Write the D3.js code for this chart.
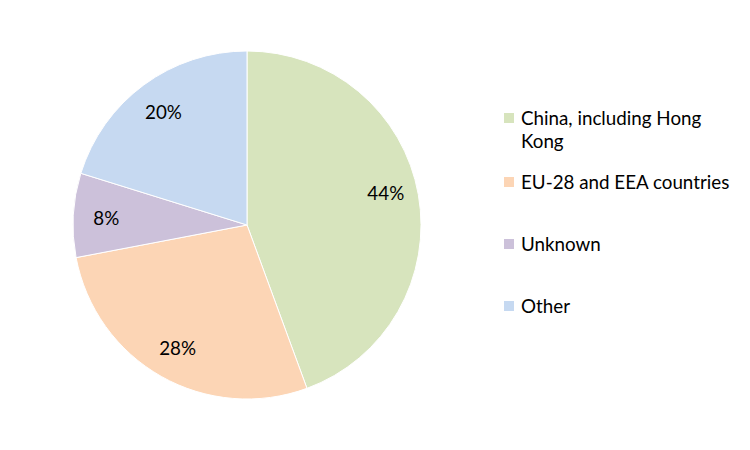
<!DOCTYPE html>
<html><head><meta charset="utf-8">
<script src="https://cdn.jsdelivr.net/npm/d3@7"></script>
<style>body{margin:0;background:#fff}svg{display:block}</style>
</head><body>
<svg id="chart" width="750" height="450"></svg>
<script>
const categories = ["China, including Hong Kong", "EU-28 and EEA countries", "Unknown", "Other"];
const values = [44.4, 27.6, 7.8, 20.2];
const labels = ["44%", "28%", "8%", "20%"];
const colors = ["#D7E4BD", "#FCD5B5", "#CCC1DA", "#C6D9F1"];
const legendLines = [["China, including Hong", "Kong"], ["EU-28 and EEA countries"], ["Unknown"], ["Other"]];

const svg = d3.select("#chart");
const cx = 247, cy = 225, r = 174;
const font = "Lato, 'Open Sans', sans-serif";
const fs = 18.8;
const labelShift = [-8, 0, 0, 0];
const pie = d3.pie().sort(null).value(d => d);
const arcs = pie(values);
const arc = d3.arc().innerRadius(0).outerRadius(r);
const labelArc = d3.arc().innerRadius(r * 0.81).outerRadius(r * 0.81);
const g = svg.append("g").attr("transform", `translate(${cx},${cy})`);
g.selectAll("path").data(arcs).join("path")
  .attr("d", arc).attr("fill", (d, i) => colors[i])
  .attr("stroke", "#fff").attr("stroke-width", 1);
g.selectAll("text").data(arcs).join("text")
  .attr("transform", (d, i) => { const c = labelArc.centroid(d); return `translate(${c[0]},${c[1] + labelShift[i]})`; })
  .attr("text-anchor", "middle").attr("dominant-baseline", "central")
  .attr("font-family", font).attr("font-size", fs).attr("fill", "#000")
  .text((d, i) => labels[i]);

const legendY = [118, 182, 244, 306];
const lg = svg.append("g");
categories.forEach((c, i) => {
  lg.append("rect").attr("x", 504).attr("y", legendY[i] - 5).attr("width", 10).attr("height", 10).attr("fill", colors[i]);
  const t = lg.append("text").attr("x", 521).attr("y", legendY[i] + 7)
    .attr("font-family", font).attr("font-size", fs).attr("fill", "#000");
  legendLines[i].forEach((l, j) => {
    t.append("tspan").attr("x", 521).attr("dy", j === 0 ? 0 : 23).text(l);
  });
});
</script>
</body></html>
